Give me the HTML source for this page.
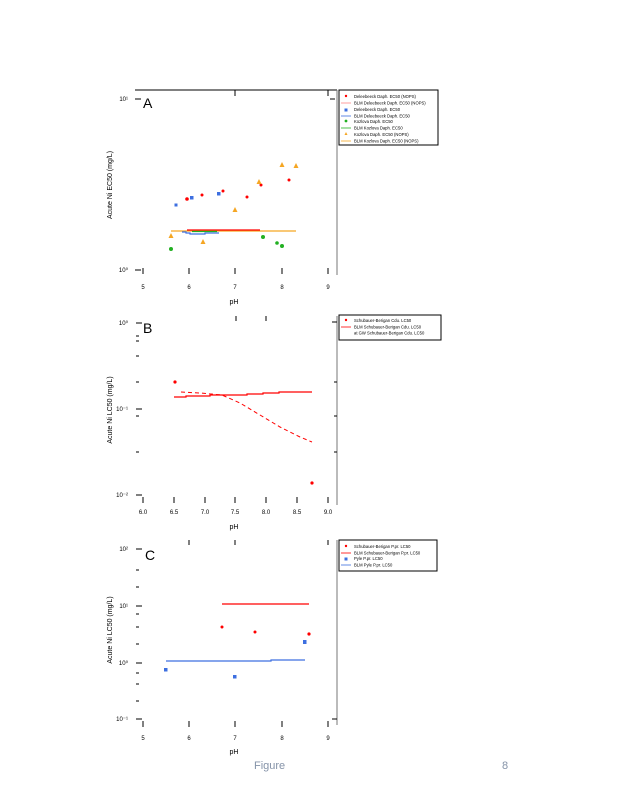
<!DOCTYPE html>
<html><head><meta charset="utf-8"><style>
body{margin:0;background:#fff;width:618px;height:800px;overflow:hidden}
svg{font-family:"Liberation Sans",sans-serif}
</style></head><body>
<svg width="618" height="800" viewBox="0 0 618 800">
<g stroke="#000" stroke-width="1" fill="none">
<!-- Panel A frame -->
<line x1="135" y1="90" x2="337" y2="90"/>
<line x1="337" y1="90" x2="337" y2="275" stroke="#777"/>
<rect x="339" y="90" width="99" height="55" stroke="#000"/>
<!-- Panel B -->
<line x1="337" y1="316" x2="337" y2="505" stroke="#777"/>
<rect x="339" y="315" width="102" height="25"/>
<!-- Panel C -->
<line x1="337" y1="540" x2="337" y2="725" stroke="#777"/>
<rect x="339" y="540" width="98" height="31"/>
</g>
<g stroke="#000" stroke-width="1">
<!-- A ticks -->
<line x1="143" y1="268" x2="143" y2="274"/><line x1="189" y1="268" x2="189" y2="274"/><line x1="235" y1="268" x2="235" y2="274"/><line x1="282" y1="268" x2="282" y2="274"/><line x1="328" y1="268" x2="328" y2="274"/>
<line x1="135" y1="99" x2="141" y2="99"/><line x1="135" y1="270" x2="141" y2="270"/>
<line x1="235" y1="90" x2="235" y2="96"/><line x1="328" y1="90" x2="328" y2="96"/><line x1="330" y1="99" x2="335" y2="99"/>
<!-- B ticks -->
<line x1="143" y1="497" x2="143" y2="503"/><line x1="174" y1="497" x2="174" y2="503"/><line x1="205" y1="497" x2="205" y2="503"/><line x1="235" y1="497" x2="235" y2="503"/><line x1="266" y1="497" x2="266" y2="503"/><line x1="297" y1="497" x2="297" y2="503"/><line x1="328" y1="497" x2="328" y2="503"/>
<line x1="136" y1="323" x2="142" y2="323"/><line x1="136" y1="409" x2="142" y2="409"/><line x1="136" y1="495" x2="142" y2="495"/>
<line x1="136" y1="336" x2="139" y2="336"/><line x1="136" y1="341" x2="139" y2="341"/><line x1="136" y1="356" x2="139" y2="356"/><line x1="136" y1="382" x2="139" y2="382"/><line x1="136" y1="416" x2="139" y2="416"/><line x1="136" y1="452" x2="139" y2="452"/>
<line x1="236" y1="316" x2="236" y2="321"/><line x1="266" y1="316" x2="266" y2="321"/><line x1="332" y1="322" x2="337" y2="322"/><line x1="334" y1="382" x2="337" y2="382"/><line x1="334" y1="416" x2="337" y2="416"/><line x1="334" y1="452" x2="337" y2="452"/>
<!-- C ticks -->
<line x1="143" y1="721" x2="143" y2="727"/><line x1="189" y1="721" x2="189" y2="727"/><line x1="235" y1="721" x2="235" y2="727"/><line x1="282" y1="721" x2="282" y2="727"/><line x1="328" y1="721" x2="328" y2="727"/>
<line x1="136" y1="549" x2="142" y2="549"/><line x1="136" y1="606" x2="142" y2="606"/><line x1="136" y1="663" x2="142" y2="663"/><line x1="136" y1="719" x2="142" y2="719"/>
<line x1="136" y1="570" x2="139" y2="570"/><line x1="136" y1="587" x2="139" y2="587"/><line x1="136" y1="614" x2="139" y2="614"/><line x1="136" y1="627" x2="139" y2="627"/><line x1="136" y1="644" x2="139" y2="644"/><line x1="136" y1="673" x2="139" y2="673"/><line x1="136" y1="684" x2="139" y2="684"/><line x1="136" y1="701" x2="139" y2="701"/>
<line x1="189" y1="540" x2="189" y2="545"/><line x1="235" y1="540" x2="235" y2="545"/><line x1="328" y1="540" x2="328" y2="545"/><line x1="332" y1="719" x2="337" y2="719"/>
</g>
<!-- tick labels -->
<g font-size="6" fill="#000" text-anchor="middle">
<text x="143" y="289">5</text><text x="189" y="289">6</text><text x="235" y="289">7</text><text x="282" y="289">8</text><text x="328" y="289">9</text>
<text x="143" y="514">6.0</text><text x="174" y="514">6.5</text><text x="205" y="514">7.0</text><text x="235" y="514">7.5</text><text x="266" y="514">8.0</text><text x="297" y="514">8.5</text><text x="328" y="514">9.0</text>
<text x="143" y="740">5</text><text x="189" y="740">6</text><text x="235" y="740">7</text><text x="282" y="740">8</text><text x="328" y="740">9</text>
</g>
<g font-size="6" fill="#000" text-anchor="end">
<text x="128" y="101">10¹</text><text x="128" y="272">10⁰</text>
<text x="128" y="325">10⁰</text><text x="128" y="411">10⁻¹</text><text x="128" y="497">10⁻²</text>
<text x="128" y="551">10²</text><text x="128" y="608">10¹</text><text x="128" y="665">10⁰</text><text x="128" y="721">10⁻¹</text>
</g>
<g font-size="7" fill="#000" text-anchor="middle">
<text x="234" y="304">pH</text><text x="234" y="529">pH</text><text x="234" y="754">pH</text>
<text transform="translate(112,185) rotate(-90)">Acute Ni EC50 (mg/L)</text>
<text transform="translate(112,410) rotate(-90)">Acute Ni LC50 (mg/L)</text>
<text transform="translate(112,630) rotate(-90)">Acute Ni LC50 (mg/L)</text>
</g>
<g font-size="14" fill="#000">
<text x="143" y="108">A</text><text x="143" y="333">B</text><text x="145" y="560">C</text>
</g>
<!-- Panel A data -->
<g fill="none" stroke-width="1.2">
<line x1="171" y1="231" x2="296" y2="231" stroke="#f5a623"/>
<line x1="187" y1="230" x2="260" y2="230" stroke="#f00"/>
<polyline points="182,232 186,232 186,233 190,233 190,234 205,234 205,233 219,233" stroke="#3d6fe0"/>
<line x1="192" y1="231.5" x2="217" y2="231.5" stroke="#22b022"/>
</g>
<g fill="#f00">
<circle cx="187" cy="199" r="1.8"/><circle cx="202" cy="195" r="1.5"/><circle cx="223" cy="191" r="1.5"/><circle cx="247" cy="197" r="1.5"/><circle cx="261" cy="185" r="1.5"/><circle cx="289" cy="180" r="1.5"/>
</g>
<g fill="#3d6fe0">
<rect x="174.5" y="203.5" width="3" height="3"/><rect x="190" y="196" width="3.5" height="3.5"/><rect x="217" y="192" width="3.5" height="3.5"/>
</g>
<g fill="#22b022">
<circle cx="171" cy="249" r="2"/><circle cx="263" cy="237" r="2"/><circle cx="277" cy="243" r="1.8"/><circle cx="282" cy="246" r="2"/>
</g>
<g fill="#f5a623">
<polygon points="171,233 168.5,238 173.5,238"/><polygon points="203,239 200.5,244 205.5,244"/><polygon points="235,207 232.5,212 237.5,212"/><polygon points="259,179 256.5,184 261.5,184"/><polygon points="282,162 279.5,167 284.5,167"/><polygon points="296,163 293.5,168 298.5,168"/>
</g>
<!-- Panel B data -->
<polyline points="174,397 186,397 186,396 210,396 210,395 247,395 247,394 263,394 263,393 279,393 279,392 312,392" fill="none" stroke="#f00" stroke-width="1.2"/>
<polyline points="181,392 200,393 222,395 240,403 260,415 280,427 300,437 312,442" fill="none" stroke="#f00" stroke-width="1" stroke-dasharray="4,3"/>
<circle cx="175" cy="382" r="1.6" fill="#f00"/><circle cx="312" cy="483" r="1.6" fill="#f00"/>
<!-- Panel C data -->
<line x1="222" y1="604" x2="309" y2="604" stroke="#f00" stroke-width="1.2"/>
<polyline points="166,661 271,661 271,660 305,660" fill="none" stroke="#3d6fe0" stroke-width="1.2"/>
<g fill="#f00"><circle cx="222" cy="627" r="1.5"/><circle cx="255" cy="632" r="1.5"/><circle cx="309" cy="634" r="1.6"/></g>
<g fill="#3d6fe0"><rect x="164" y="668" width="3.5" height="3.5"/><rect x="233" y="675" width="3.5" height="3.5"/><rect x="303" y="640" width="3.5" height="4"/></g>
<!-- Legends -->
<g font-size="4.2" fill="#000">
<circle cx="346" cy="96" r="1.2" fill="#f00"/><text x="354" y="98">Deleebeeck Daph. EC50 (NOPS)</text>
<line x1="341" y1="103" x2="351" y2="103" stroke="#f88" stroke-width="0.8"/><text x="354" y="104.5">BLM Deleebeeck Daph. EC50 (NOPS)</text>
<rect x="344.5" y="108.5" width="3" height="3" fill="#3d6fe0"/><text x="354" y="111">Deleebeeck Daph. EC50</text>
<line x1="341" y1="116" x2="351" y2="116" stroke="#3d6fe0" stroke-width="0.8"/><text x="354" y="117.5">BLM Deleebeeck Daph. EC50</text>
<circle cx="346" cy="121" r="1.4" fill="#22b022"/><text x="354" y="123">Kozlova Daph. EC50</text>
<line x1="341" y1="128" x2="351" y2="128" stroke="#22b022" stroke-width="0.8"/><text x="354" y="129.5">BLM Kozlova Daph. EC50</text>
<polygon points="346,132 344.5,135 347.5,135" fill="#f5a623"/><text x="354" y="136">Kozlova Daph. EC50 (NOPS)</text>
<line x1="341" y1="141" x2="351" y2="141" stroke="#f5a623" stroke-width="0.8"/><text x="354" y="142.5">BLM Kozlova Daph. EC50 (NOPS)</text>

<circle cx="346" cy="320" r="1.2" fill="#f00"/><text x="354" y="322">Schubauer-Berigan Cdu. LC50</text>
<line x1="341" y1="327" x2="351" y2="327" stroke="#f00" stroke-width="0.8"/><text x="354" y="328.5">BLM Schubauer-Berigan Cdu. LC50</text>
<text x="354" y="334.5">at GW Schubauer-Berigan Cdu. LC50</text>

<circle cx="346" cy="546" r="1.2" fill="#f00"/><text x="354" y="548">Schubauer-Berigan P.pr. LC50</text>
<line x1="341" y1="553" x2="351" y2="553" stroke="#f00" stroke-width="0.8"/><text x="354" y="554.5">BLM Schubauer-Berigan P.pr. LC50</text>
<rect x="344.5" y="557.5" width="3" height="3" fill="#3d6fe0"/><text x="354" y="560">Pyle P.pr. LC50</text>
<line x1="341" y1="565" x2="351" y2="565" stroke="#3d6fe0" stroke-width="0.8"/><text x="354" y="566.5">BLM Pyle P.pr. LC50</text>
</g>
<!-- footer -->
<g font-size="11" fill="#8593a8">
<text x="254" y="769">Figure</text><text x="502" y="769">8</text>
</g>
</svg>
</body></html>
